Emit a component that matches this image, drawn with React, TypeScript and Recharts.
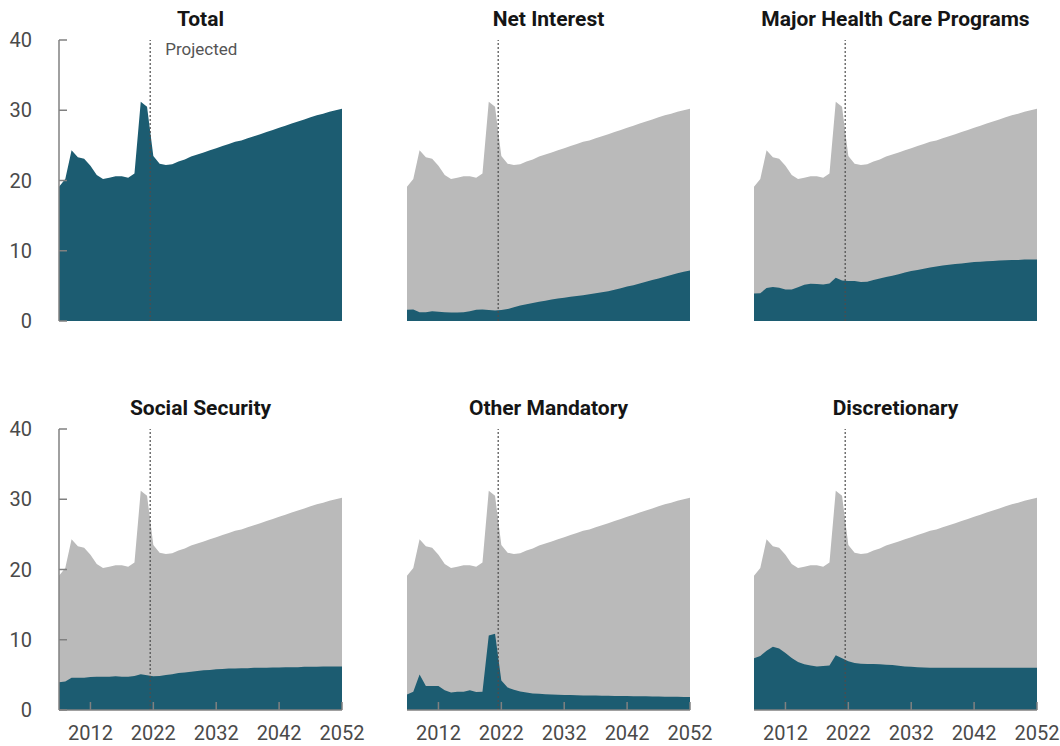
import { AreaChart, Area, XAxis, YAxis, ReferenceLine } from 'recharts'

// fiscal years, actual through 2021, projected after
const YEARS = [
  2007, 2008, 2009, 2010, 2011, 2012, 2013, 2014, 2015, 2016, 2017, 2018, 2019, 2020, 2021, 2022,
  2023, 2024, 2025, 2026, 2027, 2028, 2029, 2030, 2031, 2032, 2033, 2034, 2035, 2036, 2037, 2038,
  2039, 2040, 2041, 2042, 2043, 2044, 2045, 2046, 2047, 2048, 2049, 2050, 2051, 2052,
]

// outlays, percentage of GDP
const TOTAL = [
  19.1, 20.2, 24.3, 23.3, 23.1, 22.1, 20.8, 20.2, 20.4, 20.6, 20.6, 20.4, 21.0, 31.2, 30.5, 23.5,
  22.4, 22.2, 22.3, 22.7, 23.0, 23.4, 23.7, 24.0, 24.3, 24.6, 24.9, 25.2, 25.5, 25.7, 26.0, 26.3,
  26.6, 26.9, 27.2, 27.5, 27.8, 28.1, 28.4, 28.7, 29.0, 29.3, 29.5, 29.8, 30.0, 30.2,
]
const NET_INTEREST = [
  1.6, 1.65, 1.25, 1.25, 1.4, 1.3, 1.25, 1.2, 1.2, 1.25, 1.4, 1.6, 1.65, 1.55, 1.5, 1.55,
  1.7, 1.95, 2.2, 2.4, 2.55, 2.75, 2.9, 3.05, 3.2, 3.3, 3.45, 3.55, 3.65, 3.8, 3.95, 4.1,
  4.25, 4.45, 4.65, 4.9, 5.1, 5.35, 5.6, 5.85, 6.05, 6.3, 6.55, 6.8, 7.0, 7.2,
]
const HEALTH = [
  3.9, 3.95, 4.7, 4.85, 4.75, 4.5, 4.5, 4.8, 5.15, 5.3, 5.25, 5.2, 5.35, 6.15, 5.75, 5.7,
  5.7, 5.55, 5.6, 5.85, 6.05, 6.25, 6.45, 6.65, 6.9, 7.1, 7.25, 7.45, 7.6, 7.75, 7.9, 8.0,
  8.1, 8.2, 8.3, 8.4, 8.45, 8.5, 8.55, 8.6, 8.65, 8.7, 8.7, 8.75, 8.75, 8.75,
]
const SOCIAL_SECURITY = [
  3.95, 4.05, 4.6, 4.6, 4.6, 4.7, 4.75, 4.75, 4.75, 4.8, 4.75, 4.75, 4.85, 5.1, 4.95, 4.8,
  4.85, 5.0, 5.1, 5.25, 5.35, 5.45, 5.55, 5.65, 5.7, 5.8, 5.85, 5.9, 5.9, 5.95, 5.95, 6.0,
  6.0, 6.0, 6.05, 6.05, 6.1, 6.1, 6.1, 6.15, 6.15, 6.15, 6.2, 6.2, 6.2, 6.2,
]
const OTHER_MANDATORY = [
  2.2, 2.6, 5.05, 3.4, 3.4, 3.4, 2.8, 2.5, 2.6, 2.6, 2.8, 2.55, 2.6, 10.6, 10.85, 4.2,
  3.2, 2.9, 2.65, 2.5, 2.35, 2.3, 2.25, 2.2, 2.18, 2.15, 2.12, 2.1, 2.08, 2.06, 2.05, 2.03,
  2.02, 2.0, 1.99, 1.98, 1.96, 1.95, 1.94, 1.93, 1.92, 1.9, 1.89, 1.88, 1.86, 1.85,
]
const DISCRETIONARY = [
  7.35, 7.7, 8.45, 9.0, 8.75, 8.1, 7.4, 6.85, 6.5, 6.35, 6.2, 6.25, 6.35, 7.8, 7.35, 6.95,
  6.7, 6.6, 6.55, 6.55, 6.5, 6.45, 6.4, 6.3, 6.2, 6.15, 6.1, 6.05, 6.0, 6.0, 6.0, 6.0,
  6.0, 6.0, 6.0, 6.0, 6.0, 6.0, 6.0, 6.0, 6.0, 6.0, 6.0, 6.0, 6.0, 6.0,
]

const X_TICKS = [2012, 2022, 2032, 2042, 2052]
const Y_TICKS = [0, 10, 20, 30, 40]
const PROJECTION_START = 2021.5

const PANELS = [
  { title: 'Total', key: 'total', row: 0, col: 0 },
  { title: 'Net Interest', key: 'net', row: 0, col: 1 },
  { title: 'Major Health Care Programs', key: 'health', row: 0, col: 2 },
  { title: 'Social Security', key: 'social', row: 1, col: 0 },
  { title: 'Other Mandatory', key: 'other', row: 1, col: 1 },
  { title: 'Discretionary', key: 'disc', row: 1, col: 2 },
]

const data = YEARS.map((year, i) => ({
  year,
  total: TOTAL[i],
  net: NET_INTEREST[i],
  health: HEALTH[i],
  social: SOCIAL_SECURITY[i],
  other: OTHER_MANDATORY[i],
  disc: DISCRETIONARY[i],
}))

const TEAL = '#1c5c71'
const GRAY = '#bababa'
const AXIS = '#808080'
const LABEL = '#4a4a4a'
const FONT = 'Roboto, "Open Sans", sans-serif'

const PLOT_W = 283
const PLOT_H = 281
const COL_LEFT = [59, 407, 754]
const ROW_TOP = [40, 429]

function YTick({ x, y, payload }: any) {
  return (
    <g>
      <line x1={x} x2={x + 8} y1={y} y2={y} stroke={AXIS} strokeWidth={1.5} />
      <text x={x - 27} y={y + 7} textAnchor="end" fill={LABEL} fontSize={20} fontFamily={FONT}>
        {payload.value}
      </text>
    </g>
  )
}

function XTick({ x, y, payload }: any) {
  return (
    <text x={x} y={y + 30} textAnchor="middle" fill={LABEL} fontSize={20} fontFamily={FONT}>
      {payload.value}
    </text>
  )
}

// short inward tick mark drawn on top of the areas
function TickMark(props: any) {
  const bottom = Math.max(props.y1, props.y2)
  return <line x1={props.x1} x2={props.x1} y1={bottom} y2={bottom - 8} stroke={AXIS} strokeWidth={1.5} />
}

function ProjectedLabel({ viewBox }: any) {
  return (
    <text x={viewBox.x + 15} y={viewBox.y + 15} fill="#555" fontSize={17} fontFamily={FONT}>
      Projected
    </text>
  )
}

function Panel({ title, dataKey, row, col }: { title: string; dataKey: string; row: number; col: number }) {
  const isTotal = dataKey === 'total'
  const bottomRow = row === 1
  const firstCol = col === 0
  const left = COL_LEFT[col]
  const top = ROW_TOP[row]
  const height = 40 + PLOT_H + (bottomRow ? 36 : 40)
  return (
    <>
      <div
        style={{
          position: 'absolute',
          left: left - 20,
          top: top - 31,
          width: PLOT_W + 40,
          textAlign: 'center',
          fontFamily: FONT,
          fontWeight: 700,
          fontSize: 21,
          lineHeight: '21px',
          color: '#151515',
          whiteSpace: 'nowrap',
        }}
      >
        {title}
      </div>
      <div style={{ position: 'absolute', left: left - 59, top: top - 40 }}>
        <AreaChart
          width={59 + PLOT_W + 32}
          height={height}
          data={data}
          margin={{ top: 40, right: 32, bottom: bottomRow ? 0 : 40, left: firstCol ? 9 : 59 }}
        >
          <XAxis
            dataKey="year"
            type="number"
            domain={[2007, 2052]}
            ticks={X_TICKS}
            hide={!bottomRow}
            height={36}
            tickSize={0}
            tickMargin={0}
            tickLine={false}
            axisLine={{ stroke: AXIS, strokeWidth: 1.5 }}
            tick={<XTick />}
          />
          <YAxis
            type="number"
            domain={[0, 40]}
            ticks={Y_TICKS}
            hide={!firstCol}
            width={50}
            tickSize={0}
            tickMargin={0}
            tickLine={false}
            axisLine={{ stroke: AXIS, strokeWidth: 1.5 }}
            tick={<YTick />}
          />
          {!isTotal && (
            <Area
              type="linear"
              dataKey="total"
              stroke="none"
              fill={GRAY}
              fillOpacity={1}
              dot={false}
              activeDot={false}
              isAnimationActive={false}
            />
          )}
          <Area
            type="linear"
            dataKey={dataKey}
            stroke="none"
            fill={TEAL}
            fillOpacity={1}
            dot={false}
            activeDot={false}
            isAnimationActive={false}
          />
          {bottomRow &&
            X_TICKS.map(t => <ReferenceLine key={t} x={t} shape={<TickMark />} />)}
          <ReferenceLine
            x={PROJECTION_START}
            stroke="#4d4d4d"
            strokeWidth={1.2}
            strokeDasharray="2 2"
            label={isTotal ? <ProjectedLabel /> : undefined}
          />
        </AreaChart>
      </div>
    </>
  )
}

export default function App() {
  return (
    <div
      style={{
        position: 'absolute',
        left: 0,
        top: 0,
        width: 1060,
        height: 746,
        overflow: 'hidden',
        background: '#fff',
      }}
    >
      {PANELS.map(p => (
        <Panel key={p.key} title={p.title} dataKey={p.key} row={p.row} col={p.col} />
      ))}
    </div>
  )
}
